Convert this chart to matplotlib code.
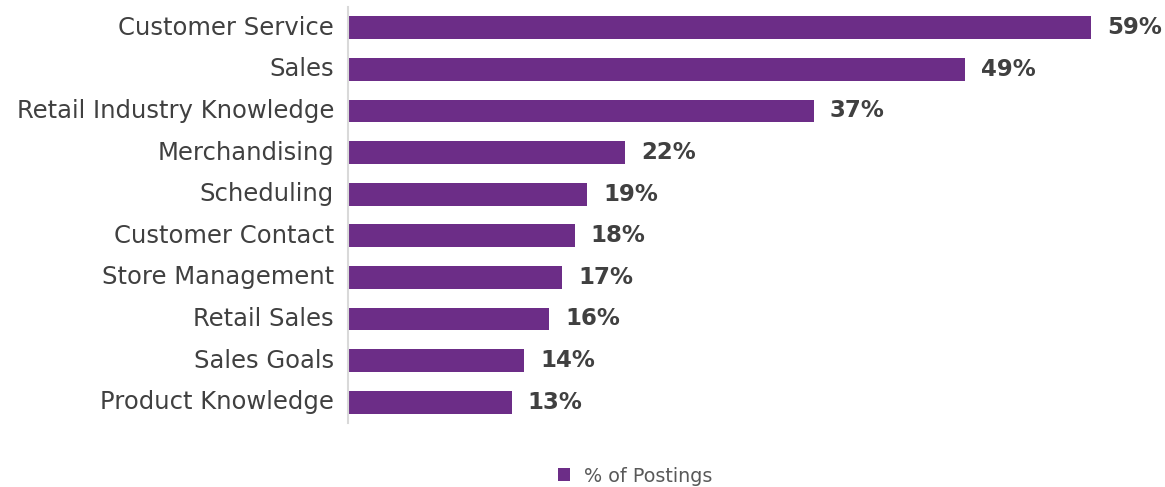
import matplotlib
matplotlib.use("Agg")
import matplotlib.pyplot as plt
from matplotlib.patches import Patch

skills = ["Customer Service", "Sales", "Retail Industry Knowledge", "Merchandising",
          "Scheduling", "Customer Contact", "Store Management", "Retail Sales",
          "Sales Goals", "Product Knowledge"]
postings_pct = [59, 49, 37, 22, 19, 18, 17, 16, 14, 13]
series_name = "% of Postings"

bar_color = "#6C2D87"
label_color = "#404040"

plt.rcParams["font.family"] = ["DejaVu Sans"]

fig = plt.figure(figsize=(11.65, 4.87), dpi=100)
ax = fig.add_axes([348 / 1165, 1 - 423 / 487, (1160 - 348) / 1165, (423 - 7) / 487])

y = list(range(len(skills)))
ax.barh(y, postings_pct, height=0.55, color=bar_color, label=series_name)
ax.set_ylim(9.5, -0.5)
ax.set_xlim(0, 64.5)

for yi, v in zip(y, postings_pct):
    ax.annotate(f"{v}%", xy=(v, yi), xytext=(11.5, 0), textcoords="offset points",
                va="center", ha="left", fontsize=16.5, fontweight="bold", color=label_color)

ax.set_yticks(y)
ax.set_yticklabels(skills, fontsize=17.5, color=label_color, va="center")
ax.tick_params(axis="y", length=0, pad=10)
ax.set_xticks([])
for s in ["top", "right", "bottom"]:
    ax.spines[s].set_visible(False)
ax.spines["left"].set_color("#D9D9D9")
ax.spines["left"].set_linewidth(1.5)

handles = [Patch(facecolor=bar_color, label=series_name)]
fig.legend(handles=handles, loc="center", bbox_to_anchor=(635 / 1165, 1 - 476 / 487),
           frameon=False, fontsize=13.8, labelcolor="#595959",
           handlelength=0.65, handleheight=0.65, handletextpad=0.7)

fig.savefig("out.png", dpi=100)
